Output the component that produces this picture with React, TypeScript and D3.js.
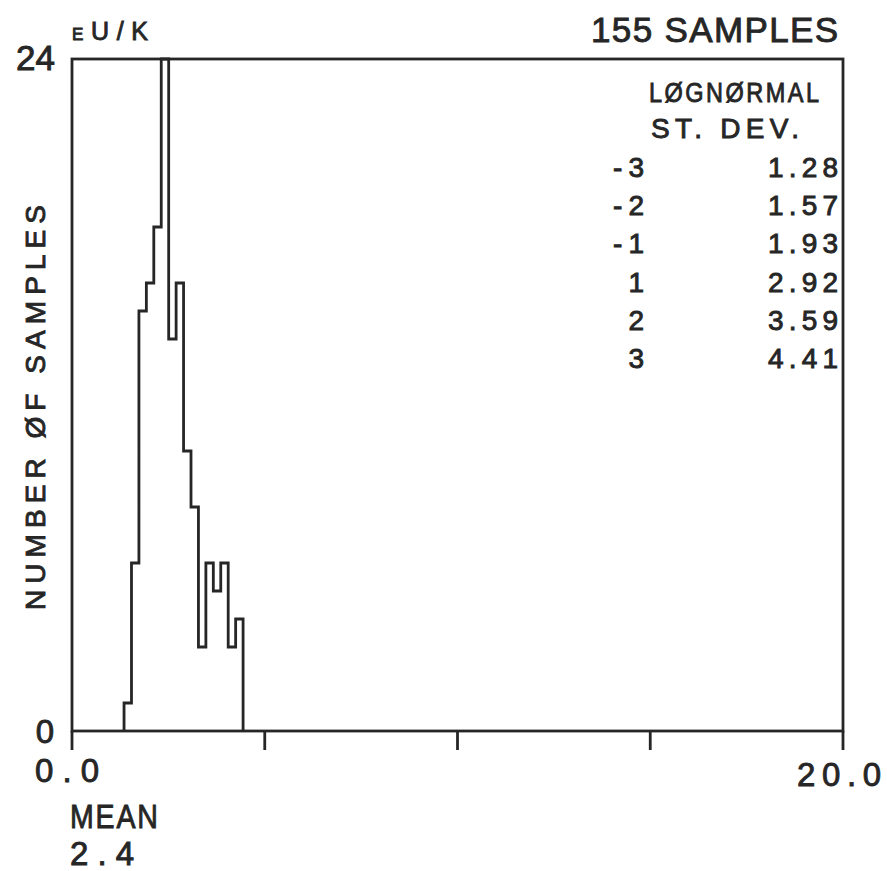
import React from "react";
import * as d3 from "d3";

// ---- data ----
const binStart = 1.35;          // eU/K value of first bin edge
const binWidth = 0.193;         // width of every bin
const binCounts = [1, 6, 15, 16, 18, 24, 14, 16, 10, 8, 3, 6, 5, 6, 3, 4];
const xTicks = [0, 5, 10, 15, 20];
const xTickLabels = ["0.0", "20.0"];
const yTickLabels = ["0", "24"];
const stdDevLevels = ["-3", "-2", "-1", "1", "2", "3"];
const stdDevValues = ["1.28", "1.57", "1.93", "2.92", "3.59", "4.41"];
const sampleCount = 155;
const meanValue = "2.4";

const W = 887;
const H = 871;
const M = { left: 72, right: 843, top: 59, bottom: 731 };
const INK = "#262626";
const FONT = "'Liberation Sans', Arial, sans-serif";

export default function App() {
  const x = d3.scaleLinear().domain([0, 20]).range([M.left, M.right]);
  const y = d3.scaleLinear().domain([0, 24]).range([M.bottom, M.top]);

  const pts: [number, number][] = [];
  pts.push([binStart, 0]);
  binCounts.forEach((c, i) => {
    const a = binStart + i * binWidth;
    const b = a + binWidth;
    pts.push([a, c]);
    pts.push([b, c]);
  });
  pts.push([binStart + binCounts.length * binWidth, 0]);
  const line = d3
    .line<[number, number]>()
    .x((d) => x(d[0]))
    .y((d) => y(d[1]));

  const rowY = d3.scaleLinear().domain([0, 1]).range([177, 215.2]);
  const tStyle = { stroke: INK, strokeWidth: 0.9 } as const;
  const cond = 0.84;

  return (
    <svg
      width={W}
      height={H}
      style={{ position: "absolute", left: 0, top: 0, background: "#fff" }}
      fontFamily={FONT}
      fill={INK}
    >
      <rect x={0} y={0} width={W} height={H} fill="#fff" />
      {/* frame */}
      <rect
        x={M.left}
        y={M.top}
        width={M.right - M.left}
        height={M.bottom - M.top}
        fill="none"
        stroke={INK}
        strokeWidth={2.8}
      />
      {/* x ticks */}
      {xTicks.map((t) => (
        <line
          key={t}
          x1={x(t)}
          x2={x(t)}
          y1={M.bottom}
          y2={M.bottom + 19}
          stroke={INK}
          strokeWidth={2.8}
        />
      ))}
      {/* histogram */}
      <path d={line(pts) || ""} fill="none" stroke={INK} strokeWidth={2.8} />

      <g {...tStyle}>
        {/* y tick labels */}
        <text x={55} y={70} fontSize={35} textAnchor="end" textLength={39} lengthAdjust="spacing">
          {yTickLabels[1]}
        </text>
        <text x={54} y={743} fontSize={33} textAnchor="end">
          {yTickLabels[0]}
        </text>
        {/* x tick labels */}
        <text x={35} y={782} fontSize={33} textLength={64} lengthAdjust="spacing">
          {xTickLabels[0]}
        </text>
        <text x={797} y={786} fontSize={33} textLength={84} lengthAdjust="spacing">
          {xTickLabels[1]}
        </text>
        {/* mean */}
        <text
          transform={`translate(70,828) scale(${cond},1)`}
          fontSize={34}
          textLength={88 / cond}
          lengthAdjust="spacing"
        >
          MEAN
        </text>
        <text x={70} y={865} fontSize={33} textLength={64} lengthAdjust="spacing">
          {meanValue}
        </text>
        {/* units */}
        <text x={72} y={40} fontSize={25} textLength={76} lengthAdjust="spacing">
          <tspan fontSize={17}>E</tspan>U/K
        </text>
        {/* title */}
        <text x={591} y={42} fontSize={35} textLength={247} lengthAdjust="spacing">
          {`${sampleCount} SAMPLES`}
        </text>
        {/* y label */}
        <text
          transform="translate(45,610) rotate(-90)"
          fontSize={28}
          textLength={405}
          lengthAdjust="spacing"
        >
          NUMBER ØF SAMPLES
        </text>
        {/* legend table */}
        <text
          transform={`translate(649,102) scale(${cond},1)`}
          fontSize={28}
          textLength={170 / cond}
          lengthAdjust="spacing"
        >
          LØGNØRMAL
        </text>
        <text x={651} y={138} fontSize={28} textLength={148} lengthAdjust="spacing">
          ST. DEV.
        </text>
        {stdDevLevels.map((s, i) => (
          <text key={s} x={644} y={rowY(i)} fontSize={28} textAnchor="end">
            {s.startsWith("-") ? (
              <>
                <tspan>-</tspan>
                <tspan dx={6}>{s.slice(1)}</tspan>
              </>
            ) : (
              s
            )}
          </text>
        ))}
        {stdDevValues.map((v, i) => (
          <text key={v} x={768} y={rowY(i)} fontSize={28} textLength={70} lengthAdjust="spacing">
            {v}
          </text>
        ))}
      </g>
    </svg>
  );
}
